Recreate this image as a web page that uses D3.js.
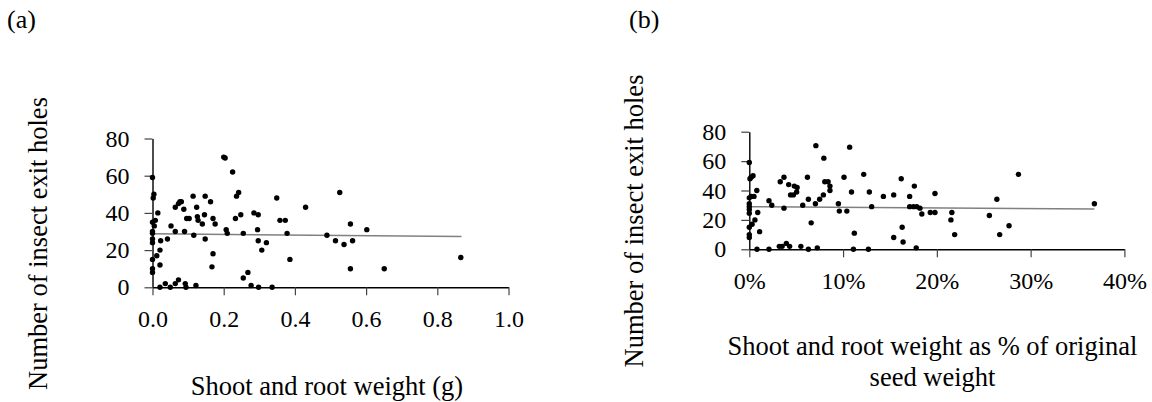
<!DOCTYPE html>
<html>
<head>
<meta charset="utf-8">
<script src="https://cdn.jsdelivr.net/npm/d3@7"></script>
<style>
  body { margin: 0; background: #fff; }
  svg, svg text { font-family: "Liberation Serif", "Times New Roman", Times, serif !important; }
</style>
</head>
<body>
<svg></svg>
<script>
const width = 1152;
const height = 402;
const serif = '"Liberation Serif", "Times New Roman", Times, serif';

// panel (a): shoot and root weight (g) vs number of exit holes
const weightA = [0, 0.004, 0.002, 0, 0.008, 0.005, 0, 0, 0, 0, 0, 0, 0, 0.012, 0.015, 0.023, 0.021, 0.021, 0.021,
  0.036, 0.05, 0.052, 0.042, 0.064, 0.064, 0.073, 0.077, 0.081, 0.088, 0.064, 0.073, 0.09, 0.092, 0.094, 0.096, 0.103,
  0.116, 0.114, 0.124, 0.126, 0.128, 0.14, 0.146, 0.148, 0.148, 0.122, 0.163, 0.17, 0.176, 0.17, 0.167, 0.2, 0.204,
  0.207, 0.21, 0.225, 0.233, 0.236, 0.242, 0.248, 0.255, 0.255, 0.268, 0.277, 0.285, 0.297, 0.295, 0.297, 0.298,
  0.307, 0.32, 0.336, 0.349, 0.358, 0.373, 0.378, 0.386, 0.43, 0.49, 0.514, 0.526, 0.538, 0.556, 0.562, 0.556, 0.602,
  0.651, 0.866];
const holesA = [59, 50, 48, 35, 36, 33, 30, 29, 26, 24, 15, 10, 8, 17, 40, 25, 20, 12, 0,
  2, 0, 33, 26, 30, 43, 45, 46, 46, 42, 2, 4, 30, 2, 0, 37, 37,
  28, 49, 43, 38, 36, 34, 39, 49, 26, 1, 46, 37, 34, 18, 11, 70, 69.5,
  31, 29, 62, 37, 49, 51, 39, 29, 5, 8, 1, 40, 39, 31, 25, 0,
  20, 24, 0, 48, 36, 36, 29, 15, 43, 28, 25, 51, 23, 34, 25, 10, 31,
  10, 16];

// panel (b): shoot and root weight as share of original seed weight
const shareB = [0, 0.0007, 0.002, 0.004, 0, 0.002, 0.005, 0.008, 0, 0, 0, 0, 0, 0, 0, 0.003, 0.006, 0.009, 0.011,
  0.0082, 0.021, 0.024, 0.021, 0.033, 0.037, 0.037, 0.032, 0.035, 0.0395, 0.043, 0.042, 0.044, 0.047, 0.048, 0.051,
  0.0505, 0.055, 0.057, 0.062, 0.063, 0.063, 0.066, 0.071, 0.0705, 0.0725, 0.075, 0.079, 0.0795, 0.0805, 0.084, 0.086,
  0.086, 0.095, 0.096, 0.101, 0.104, 0.107, 0.109, 0.112, 0.111, 0.122, 0.127, 0.128, 0.1305, 0.143, 0.154, 0.154,
  0.162, 0.163, 0.164, 0.171, 0.176, 0.171, 0.175, 0.1785, 0.178, 0.182, 0.184, 0.193, 0.198, 0.198, 0.216, 0.215,
  0.219, 0.256, 0.264, 0.267, 0.277, 0.287, 0.368];
const holesB = [59, 48, 49, 50, 35, 36, 36, 40, 31, 29, 27, 24.5, 15, 10, 8, 17, 20, 25, 12,
  0, 33, 30, 0, 46, 49, 28, 2, 2, 4, 2, 44, 37, 37, 43, 42,
  39, 2, 30, 49, 34, 0, 18, 70.5, 31, 1, 34, 37, 62, 46, 46, 43,
  40, 31, 26, 49, 26, 69.5, 39, 11, 0, 51, 0, 39, 29, 36, 37, 8,
  48, 15, 5, 36, 43, 29, 29, 29, 1, 28, 24, 25, 25, 38, 25, 20,
  10, 23, 34, 10, 16, 51, 31];

// fitted trend line end points
const trendA = [[0, 28.8], [0.868, 27.3]];
const trendB = [[0, 29.0], [0.368, 27.4]];

const yTicks = [0, 20, 40, 60, 80];
const xTicksA = [0, 0.2, 0.4, 0.6, 0.8, 1.0];
const xTicksB = [0, 0.1, 0.2, 0.3, 0.4];

const svg = d3.select("svg")
  .attr("width", width)
  .attr("height", height)
  .style("font-family", serif);

function drawPanel(opts) {
  const g = svg.append("g").style("font-family", serif);
  const x = d3.scaleLinear().domain(opts.xDomain).range(opts.xRange);
  const y = d3.scaleLinear().domain([0, 80]).range(opts.yRange);

  const xAxis = g.append("g")
    .attr("transform", `translate(0,${opts.yRange[0]})`)
    .call(d3.axisBottom(x).tickValues(opts.xTicks).tickFormat(opts.xFormat)
      .tickSize(8).tickSizeOuter(0).tickPadding(15));

  const yAxis = g.append("g")
    .attr("transform", `translate(${opts.xRange[0]},0)`)
    .call(d3.axisLeft(y).tickValues(yTicks).tickSize(8).tickSizeOuter(0).tickPadding(15));

  [xAxis, yAxis].forEach(a => {
    a.attr("font-family", null).style("font-family", serif);
    a.select(".domain").attr("stroke", "#000").attr("stroke-width", 1.4);
    a.selectAll(".tick line").attr("stroke", "#444").attr("stroke-width", 1.2);
    a.selectAll(".tick text")
      .attr("fill", "#000")
      .attr("font-size", "24px")
      .style("font-family", serif);
  });

  g.append("path")
    .datum(opts.trend)
    .attr("fill", "none")
    .attr("stroke", "#808080")
    .attr("stroke-width", 1.5)
    .attr("d", d3.line().x(d => x(d[0])).y(d => y(d[1])));

  g.selectAll("circle")
    .data(opts.xs.map((v, i) => [v, opts.ys[i]]))
    .enter()
    .append("circle")
    .attr("cx", d => x(d[0]))
    .attr("cy", d => y(d[1]))
    .attr("r", 2.7)
    .attr("fill", "#000");

  g.append("text")
    .attr("transform", `translate(${opts.yTitleX},${opts.yTitleY}) rotate(-90)`)
    .attr("text-anchor", "middle")
    .attr("font-size", "26.5px")
    .text("Number of insect exit holes");

  const xt = g.append("text")
    .attr("text-anchor", "middle")
    .attr("font-size", "26.5px");
  opts.xTitle.forEach((line, i) => {
    xt.append("tspan")
      .attr("x", opts.xTitleX)
      .attr("y", opts.xTitleY + i * 31)
      .text(line);
  });

  g.append("text")
    .attr("x", opts.tagX)
    .attr("y", 28)
    .attr("font-size", "26px")
    .text(opts.tag);
}

drawPanel({
  tag: "(a)", tagX: 7,
  xs: weightA, ys: holesA, trend: trendA,
  xDomain: [0, 1], xRange: [152.5, 508.5], yRange: [287.3, 138.5],
  xTicks: xTicksA, xFormat: d3.format(".1f"),
  xTitle: ["Shoot and root weight (g)"], xTitleX: 327, xTitleY: 395,
  yTitleX: 47, yTitleY: 243.5
});

drawPanel({
  tag: "(b)", tagX: 629,
  xs: shareB, ys: holesB, trend: trendB,
  xDomain: [0, 0.4], xRange: [749.3, 1124.4], yRange: [249.3, 131.7],
  xTicks: xTicksB, xFormat: d3.format(".0%"),
  xTitle: ["Shoot and root weight as % of original", "seed weight"], xTitleX: 932.5, xTitleY: 355,
  yTitleX: 643, yTitleY: 221
});
</script>
</body>
</html>
